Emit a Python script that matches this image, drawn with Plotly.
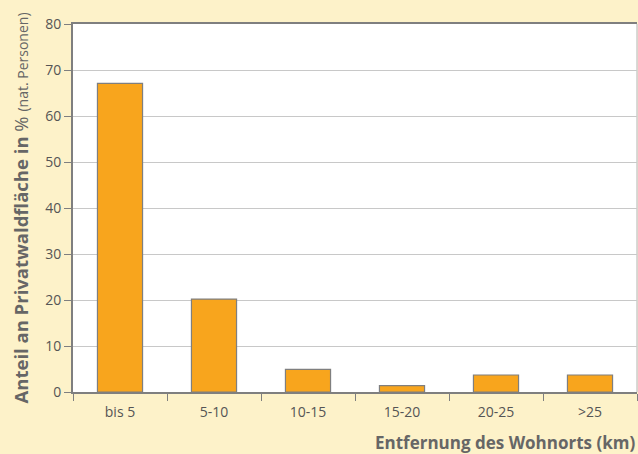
import plotly.graph_objects as go

categories = ["bis 5", "5-10", "10-15", "15-20", "20-25", ">25"]
values = [67.1, 20.2, 4.9, 1.4, 3.7, 3.7]
y_ticks = [0, 10, 20, 30, 40, 50, 60, 70, 80]

FONT = "Open Sans"
TXT = "#666666"

fig = go.Figure(go.Bar(
    x=categories, y=values,
    marker=dict(color="#F8A51D", line=dict(color="#7f7f7f", width=1.2)),
    width=0.48,
))

fig.update_layout(
    width=638, height=454,
    margin=dict(l=73, r=1, t=24, b=62),
    paper_bgcolor="#FDF2C9",
    plot_bgcolor="#FFFFFF",
    font=dict(family=FONT, color=TXT, size=13),
    showlegend=False,
    xaxis=dict(
        showline=True, linecolor="#7f7f7f", linewidth=2, mirror=True,
        ticks="outside", ticklen=7, tickcolor="#7f7f7f", tickwidth=1,
        tickson="boundaries", showgrid=False, ticklabelstandoff=6,
        tickfont=dict(size=14, color="#555555"),
    ),
    yaxis=dict(
        range=[0, 80], tickvals=y_ticks,
        showline=True, linecolor="#7f7f7f", linewidth=2,
        ticks="outside", ticklen=7, tickcolor="#7f7f7f", tickwidth=1,
        showgrid=True, gridcolor="#c8c8c8", gridwidth=1.2,
        tickfont=dict(size=14, color="#555555"),
        title=dict(
            text="<b>Anteil an Privatwaldfläche in</b> % <span style='font-size:14px'>(nat. Personen)</span>",
            font=dict(size=18.5, color=TXT), standoff=12,
        ),
        zeroline=False,
    ),
    shapes=[dict(type="line", xref="paper", yref="paper", x0=1, x1=1, y0=0, y1=1,
                 line=dict(color="#cccccc", width=1.5))],
    annotations=[dict(
        text="<b>Entfernung des Wohnorts (km)</b>", xref="paper", yref="paper",
        x=1.0, y=0, xanchor="right", yanchor="top", yshift=-37, showarrow=False,
        font=dict(size=17, color=TXT),
    )],
)

fig.write_html(
    "out.html",
    config={"displayModeBar": False},
    post_script="document.body.style.margin='0';document.body.style.padding='0';",
)
